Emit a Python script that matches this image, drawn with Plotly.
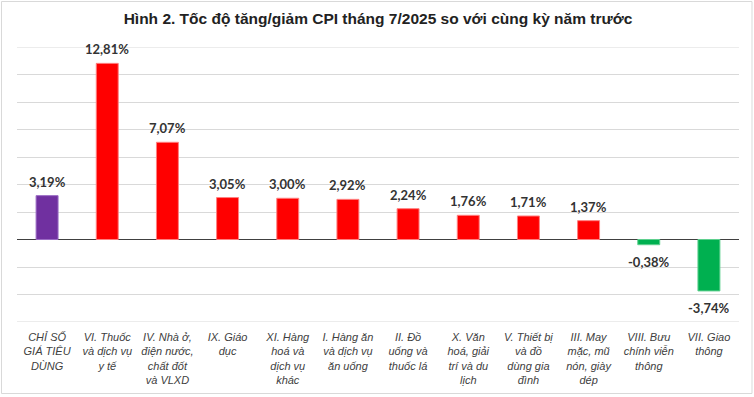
import plotly.graph_objects as go

categories = [
    "CHỈ SỐ<br>GIÁ TIÊU<br>DÙNG",
    "VI. Thuốc<br>và dịch vụ<br>y tế",
    "IV. Nhà ở,<br>điện nước,<br>chất đốt<br>và VLXD",
    "IX. Giáo<br>dục",
    "XI. Hàng<br>hoá và<br>dịch vụ<br>khác",
    "I. Hàng ăn<br>và dịch vụ<br>ăn uống",
    "II. Đồ<br>uống và<br>thuốc lá",
    "X. Văn<br>hoá, giải<br>trí và du<br>lịch",
    "V. Thiết bị<br>và đồ<br>dùng gia<br>đình",
    "III. May<br>mặc, mũ<br>nón, giày<br>dép",
    "VIII. Bưu<br>chính viễn<br>thông",
    "VII. Giao<br>thông",
]
values = [3.19, 12.81, 7.07, 3.05, 3.00, 2.92, 2.24, 1.76, 1.71, 1.37, -0.38, -3.74]
bar_colors = ["#7030A0"] + ["#FF0000"] * 9 + ["#00B050"] * 2
edge_colors = ["#9A6BC4"] + ["#FF8080"] * 9 + ["#5FD08F"] * 2
y_range = [-6, 14]
title = "Hình 2. Tốc độ tăng/giảm CPI tháng 7/2025 so với cùng kỳ năm trước"

labels = [f"{v:.2f}".replace(".", ",") + "%" for v in values]

fig = go.Figure()
fig.add_trace(go.Bar(
    x=categories, y=values,
    marker=dict(color=bar_colors, line=dict(color=edge_colors, width=1)),
    width=0.365,
    hoverinfo="skip",
))

for c, v, t in zip(categories, values, labels):
    fig.add_annotation(
        x=c, y=v, text=t, showarrow=False,
        yanchor="middle", yshift=14 if v >= 0 else -17,
        font=dict(family="Lato", size=13, color="#333333", weight="bold"),
    )

# gridlines at the two ends of the value axis
for yv in y_range:
    fig.add_hline(y=yv, line=dict(color="#D9D9D9", width=1), layer="below")

L, R, T, B = 17, 15, 47, 75
W, H = 754, 397
pw, ph = W - L - R, H - T - B
fig.add_shape(
    type="rect", xref="paper", yref="paper",
    x0=(1.5 - L) / pw, x1=(W - 2 - L) / pw,
    y0=((H - B) - 393.5) / ph, y1=((H - B) - 1.5) / ph,
    line=dict(color="#D9D9D9", width=1), layer="below",
)

fig.update_layout(
    width=W, height=H,
    margin=dict(l=L, r=R, t=T, b=B, autoexpand=False),
    paper_bgcolor="white", plot_bgcolor="white",
    showlegend=False,
    title=dict(
        text=title, x=0.5, xanchor="center", y=1 - 19 / H, yanchor="middle",
        xref="paper", yref="container",
        font=dict(family="Liberation Sans", size=15.5, color="#222222", weight="bold"),
    ),
    xaxis=dict(
        tickfont=dict(family="Liberation Sans", size=11, color="#404040", style="italic"),
        showgrid=False, showline=False, ticks="", automargin=False,
        ticklabelstandoff=7,
    ),
    yaxis=dict(
        range=y_range, tick0=0, dtick=2, showticklabels=False,
        showgrid=True, gridcolor="#D9D9D9", gridwidth=1,
        zeroline=True, zerolinecolor="#404040", zerolinewidth=1,
        showline=False, automargin=False,
    ),
)

fig.write_html(
    "out.html",
    config={"displayModeBar": False},
    post_script="document.body.style.margin='0';document.body.style.overflow='hidden';",
)
